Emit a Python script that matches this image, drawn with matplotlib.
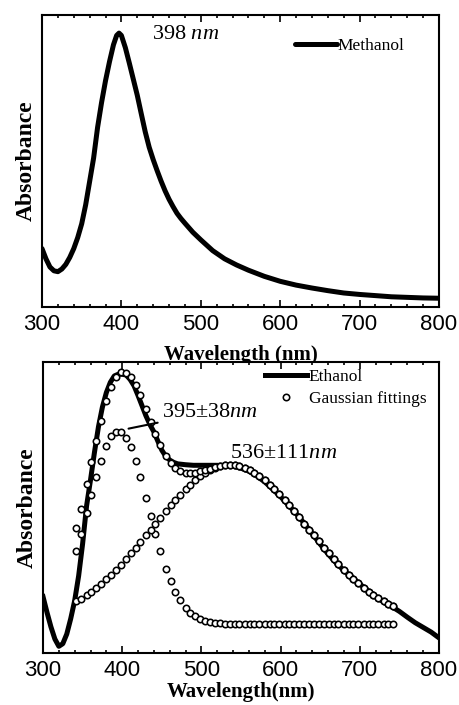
import matplotlib
matplotlib.use("Agg")
import matplotlib.pyplot as plt
from matplotlib.ticker import MultipleLocator
from matplotlib.lines import Line2D

plt.rcParams['font.family'] = ['Liberation Serif', 'DejaVu Serif']
plt.rcParams['mathtext.fontset'] = 'custom'
plt.rcParams['mathtext.rm'] = 'Liberation Serif'
plt.rcParams['mathtext.it'] = 'Liberation Serif:italic'

# ---------------- data ----------------
meth_x = [300, 305, 310, 315, 320, 325, 330, 335, 340, 345, 350, 355, 360, 365, 370, 375, 380, 385, 390,
          394, 397, 400, 405, 410, 415, 420, 425, 430, 435, 440, 445, 450, 455, 460, 465, 470, 475, 480,
          490, 500, 515, 530, 545, 560, 580, 600, 620, 640, 660, 680, 700, 720, 740, 760, 780, 800]
meth_y = [0.200, 0.165, 0.137, 0.124, 0.121, 0.130, 0.146, 0.170, 0.200, 0.238, 0.285, 0.350, 0.430,
          0.510, 0.615, 0.700, 0.775, 0.840, 0.898, 0.930, 0.938, 0.930, 0.888, 0.835, 0.780, 0.725,
          0.662, 0.600, 0.547, 0.505, 0.467, 0.431, 0.398, 0.369, 0.344, 0.321, 0.303, 0.287,
          0.256, 0.230, 0.193, 0.165, 0.144, 0.126, 0.105, 0.088, 0.075, 0.065, 0.056, 0.048, 0.043,
          0.039, 0.035, 0.033, 0.031, 0.030]

eth_x = [300, 305, 310, 315, 320, 325, 330, 335, 340, 345, 350, 355, 360, 365, 370, 375, 380, 385, 390,
         395, 400, 405, 410, 415, 420, 425, 430, 435, 440, 445, 450, 455, 460, 465, 470, 480, 490, 500,
         520, 540, 550, 560, 570, 580, 590, 600, 610, 620, 630, 640, 650, 660, 670, 680, 690, 700, 710,
         720, 730, 740, 750, 760, 770, 780, 790, 800]
eth_y = [0.194, 0.140, 0.090, 0.048, 0.023, 0.032, 0.065, 0.118, 0.180, 0.265, 0.375, 0.505, 0.595,
         0.690, 0.777, 0.845, 0.895, 0.930, 0.952, 0.958, 0.958, 0.955, 0.940, 0.918, 0.885, 0.850,
         0.815, 0.785, 0.760, 0.728, 0.697, 0.676, 0.663, 0.655, 0.650, 0.647, 0.645, 0.645, 0.645,
         0.642, 0.635, 0.625, 0.608, 0.588, 0.563, 0.537, 0.508, 0.478, 0.445, 0.410, 0.374, 0.340,
         0.310, 0.283, 0.260, 0.237, 0.215, 0.194, 0.175, 0.160, 0.143, 0.123, 0.104, 0.088, 0.072,
         0.052]

fit_x = [342, 348, 355, 361, 367, 373, 380, 386, 392, 398, 405, 411, 417, 423, 430, 436, 442, 448, 455,
         461, 467, 473, 480, 486, 492, 498, 505, 511, 517, 523, 530, 536, 542, 548, 555, 561, 567, 573,
         580, 586, 592, 598, 605, 611, 617, 623, 630, 636, 642, 648, 655, 661, 667, 673, 680, 686, 692,
         698, 705, 711, 717, 723, 730, 736, 742]
fit_g1 = [0.351, 0.408, 0.481, 0.544, 0.605, 0.661, 0.713, 0.745, 0.761, 0.761,
          0.740, 0.707, 0.661, 0.605, 0.534, 0.471, 0.408, 0.351, 0.290, 0.247,
          0.210, 0.181, 0.154, 0.138, 0.126, 0.117, 0.110, 0.106, 0.104, 0.102,
          0.101, 0.100, 0.100, 0.100, 0.100, 0.100, 0.100, 0.100, 0.100, 0.100,
          0.100, 0.100, 0.100, 0.100, 0.100, 0.100, 0.100, 0.100, 0.100, 0.100,
          0.100, 0.100, 0.100, 0.100, 0.100, 0.100, 0.100, 0.100, 0.100, 0.100,
          0.100, 0.100, 0.100, 0.100, 0.100]
fit_g2 = [0.177, 0.187, 0.199, 0.211, 0.223, 0.237, 0.254, 0.269, 0.286, 0.303,
          0.323, 0.342, 0.361, 0.381, 0.404, 0.424, 0.445, 0.465, 0.488, 0.507,
          0.526, 0.544, 0.564, 0.579, 0.594, 0.607, 0.619, 0.628, 0.636, 0.641,
          0.645, 0.646, 0.645, 0.642, 0.636, 0.628, 0.619, 0.608, 0.594, 0.579,
          0.564, 0.547, 0.526, 0.507, 0.488, 0.468, 0.445, 0.424, 0.404, 0.384,
          0.361, 0.342, 0.323, 0.305, 0.286, 0.269, 0.254, 0.239, 0.223, 0.211,
          0.199, 0.188, 0.177, 0.168, 0.160]
fit_sum = [0.428, 0.495, 0.580, 0.655, 0.728, 0.798, 0.867, 0.914, 0.947, 0.964,
           0.963, 0.949, 0.922, 0.886, 0.838, 0.795, 0.753, 0.716, 0.678, 0.654,
           0.636, 0.625, 0.618, 0.617, 0.620, 0.624, 0.629, 0.634, 0.640, 0.643,
           0.646, 0.646, 0.645, 0.642, 0.636, 0.628, 0.619, 0.608, 0.594, 0.579,
           0.564, 0.547, 0.526, 0.507, 0.488, 0.468, 0.445, 0.424, 0.404, 0.384,
           0.361, 0.342, 0.323, 0.305, 0.286, 0.269, 0.254, 0.239, 0.223, 0.211,
           0.199, 0.188, 0.177, 0.168, 0.160]

xticks = [300, 400, 500, 600, 700, 800]

# ---------------- figure ----------------
W, H = 459, 705
fig = plt.figure(figsize=(W / 100, H / 100), dpi=100)

def box(l, r, t, b):
    return [l / W, 1 - b / H, (r - l) / W, (b - t) / H]

ax1 = fig.add_axes(box(42, 439, 15, 307))
ax2 = fig.add_axes(box(43, 439, 362, 653))

tickfont = dict(family=['Liberation Sans', 'DejaVu Sans'], size=16)
labfont = dict(family=['Liberation Serif'], weight='bold', size=15)
ylabfont = dict(family=['Liberation Serif'], weight='bold', size=17)

for ax in (ax1, ax2):
    ax.set_xlim(300, 800)
    ax.set_ylim(0, 1)
    ax.set_xticks(xticks)
    ax.set_xticklabels([str(t) for t in xticks], fontdict=tickfont)
    ax.xaxis.set_minor_locator(MultipleLocator(20))
    ax.tick_params(axis='x', which='both', direction='in', top=True, bottom=True, width=1.2, pad=5)
    ax.tick_params(axis='x', which='major', length=5)
    ax.tick_params(axis='x', which='minor', length=2.5)
    ax.set_yticks([])
    for s in ax.spines.values():
        s.set_linewidth(1.5)
    ax.set_ylabel('Absorbance', fontdict=ylabfont, labelpad=4)

# top panel
ax1.plot(meth_x, meth_y, color='black', lw=3.6, solid_joinstyle='round', solid_capstyle='round',
         label='Methanol')
ax1.set_xlabel('Wavelength (nm)', fontdict=labfont, labelpad=7)
ax1.text(438, 0.932, '398 $\\mathit{nm}$', fontsize=16, va='center', ha='left')
ax1.legend(loc='center left', bbox_to_anchor=(0.637, 0.895), frameon=False, borderpad=0,
           borderaxespad=0, handlelength=2.4, handletextpad=0.05,
           prop={'family': 'Liberation Serif', 'size': 12.5})

# bottom panel
ax2.set_zorder(2)
ax2.plot(eth_x, eth_y, color='black', lw=3.6, solid_joinstyle='round', zorder=2)
mk = dict(ls='none', marker='o', ms=4.6, mfc='white', mec='black', mew=1.15, zorder=3)
ax2.plot(fit_x, fit_g1, **mk)
ax2.plot(fit_x, fit_g2, **mk)
ax2.plot(fit_x, fit_sum, **mk)
ax2.set_xlabel('Wavelength(nm)', fontdict=labfont, labelpad=1)
ax2.annotate('395\u00b138$\\mathit{nm}$', xy=(408, 0.771), xytext=(450, 0.828), fontsize=16,
             va='center', ha='left',
             arrowprops=dict(arrowstyle='-', lw=1.5, color='black', shrinkA=1, shrinkB=0))
ax2.text(536, 0.687, '536\u00b1111$\\mathit{nm}$', fontsize=16, va='center', ha='left')

handles = [Line2D([], [], color='black', lw=3.6),
           Line2D([], [], ls='none', marker='o', ms=4.6, mfc='white', mec='black', mew=1.15)]
ax2.legend(handles, ['Ethanol', 'Gaussian fittings'], loc='upper left', bbox_to_anchor=(0.561, 0.975),
           frameon=False, borderpad=0, borderaxespad=0, handlelength=2.4, handletextpad=0.1,
           labelspacing=0.3, prop={'family': 'Liberation Serif', 'size': 12.5})

fig.savefig('out.png', dpi=100)
